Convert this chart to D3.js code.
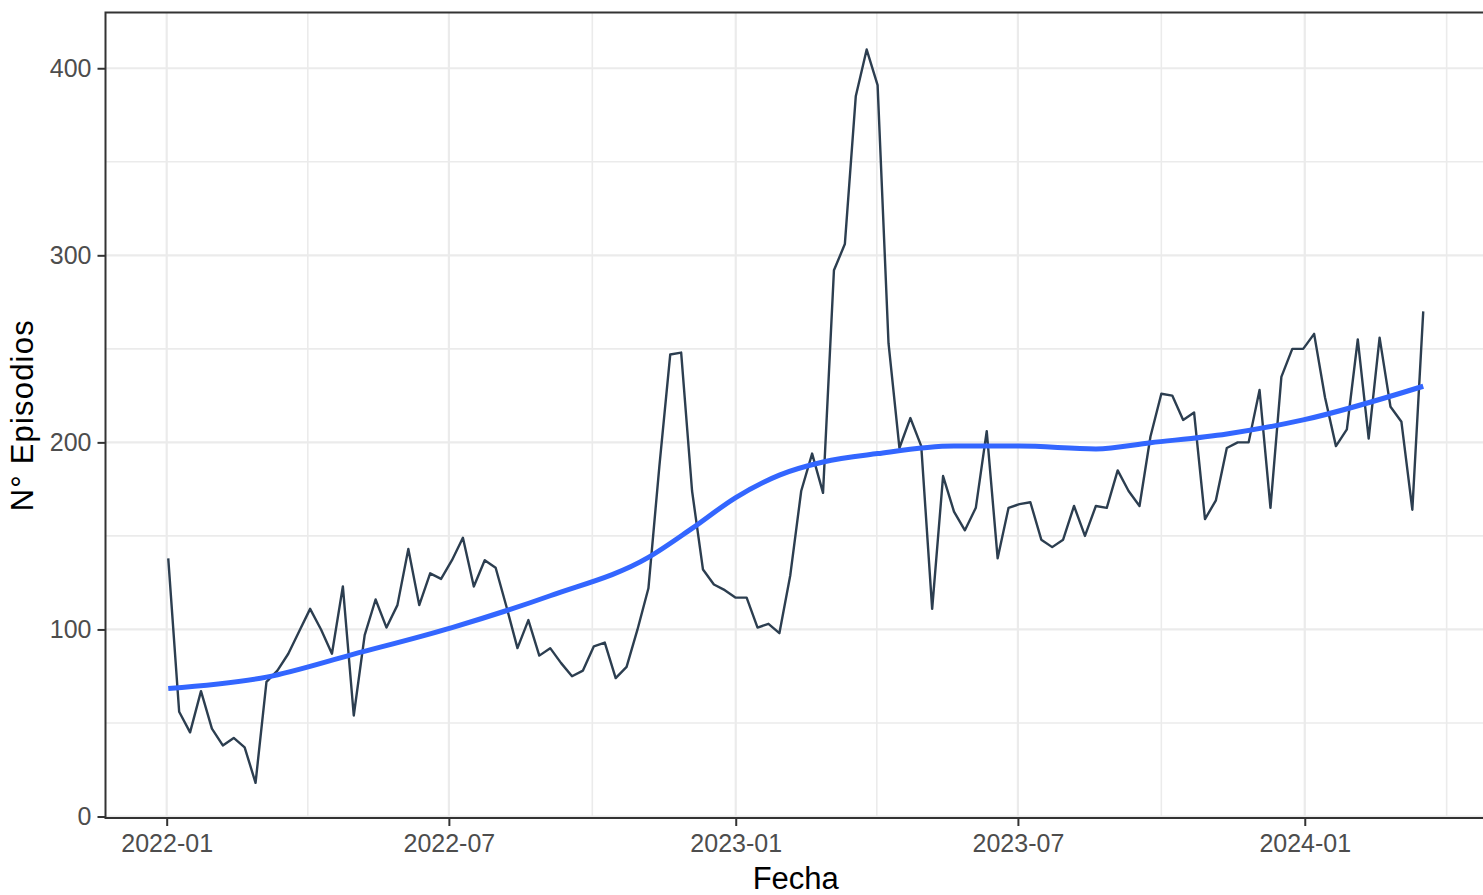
<!DOCTYPE html>
<html>
<head>
<meta charset="utf-8">
<script src="https://cdn.jsdelivr.net/npm/d3@7"></script>
<style>
  html, body { margin: 0; padding: 0; background: #ffffff; }
  svg { display: block; font-family: "Liberation Sans", Arial, sans-serif; }
</style>
</head>
<body>
<svg id="chart" width="1483" height="895"></svg>
<script>
// ---- data ----
const startDate = "2022-01-02";           // first weekly observation
const episodios = [
  138, 56, 45, 67, 47, 38, 42, 37, 18, 72,
  78, 87, 99, 111, 100, 87, 123, 54, 97, 116,
  101, 113, 143, 113, 130, 127, 137, 149, 123, 137,
  133, 112, 90, 105, 86, 90, 82, 75, 78, 91,
  93, 74, 80, 100, 122, 187, 247, 248, 174, 132,
  124, 121, 117, 117, 101, 103, 98, 129, 174, 194,
  173, 292, 306, 385, 410, 391, 253, 197, 213, 198,
  111, 182, 163, 153, 165, 206, 138, 165, 167, 168,
  148, 144, 148, 166, 150, 166, 165, 185, 174, 166,
  203, 226, 225, 212, 216, 159, 169, 197, 200, 200,
  228, 165, 235, 250, 250, 258, 224, 198, 207, 255,
  202, 256, 219, 211, 164, 270
];
// smoothed trend (week index, value)
const smoothWeek  = [0, 9, 17, 26, 35, 44, 48, 52, 56, 60, 65, 72, 78, 85, 90, 97, 104, 115];
const smoothValue = [68.4, 74.5, 86.8, 101, 118, 138.5, 154, 170.5, 182.5, 189.5, 194, 198, 198, 196.5, 199.8, 204.5, 212, 230];

const xTickLabels = ["2022-01", "2022-07", "2023-01", "2023-07", "2024-01"];
const yTicks = [0, 100, 200, 300, 400];
const yMinor = [50, 150, 250, 350];
const xTitle = "Fecha";
const yTitle = "N° Episodios";

// ---- build ----
const parse = d3.timeParse("%Y-%m-%d");
const parseYM = d3.timeParse("%Y-%m");
const t0 = parse(startDate);
const series = episodios.map((v, i) => ({ date: d3.timeWeek.offset(t0, i), value: v }));
const smooth = smoothWeek.map((w, i) => ({ date: d3.timeWeek.offset(t0, w), value: smoothValue[i] }));

const svg = d3.select("#chart");
const W = 1483, H = 895;
const panel = { left: 105.5, top: 12.5, right: 1486, bottom: 818 };

// x domain: data extent with 5% expansion (ggplot default)
const ext = d3.extent(series, d => d.date);
const span = ext[1] - ext[0];
const x = d3.scaleTime()
  .domain([new Date(+ext[0] - span * 0.05), new Date(+ext[1] + span * 0.05)])
  .range([panel.left, panel.right]);
const y = d3.scaleLinear().domain([-0.8, 429.8]).range([panel.bottom, panel.top]);

const majorX = xTickLabels.map(s => parseYM(s));
const minorX = [];
for (let i = 0; i < majorX.length; i++) {
  const a = majorX[i], b = i + 1 < majorX.length ? majorX[i + 1] : d3.timeMonth.offset(a, 6);
  minorX.push(new Date((+a + +b) / 2));
}

svg.append("rect").attr("width", W).attr("height", H).attr("fill", "#ffffff");

const grid = svg.append("g");
grid.selectAll(".ymin").data(yMinor).join("line")
  .attr("x1", panel.left).attr("x2", panel.right)
  .attr("y1", d => y(d)).attr("y2", d => y(d))
  .attr("stroke", "#ebebeb").attr("stroke-width", 1.6);
grid.selectAll(".xmin").data(minorX.filter(d => x(d) < panel.right)).join("line")
  .attr("y1", panel.top).attr("y2", panel.bottom)
  .attr("x1", d => x(d)).attr("x2", d => x(d))
  .attr("stroke", "#ebebeb").attr("stroke-width", 1.6);
grid.selectAll(".ymaj").data(yTicks).join("line")
  .attr("x1", panel.left).attr("x2", panel.right)
  .attr("y1", d => y(d)).attr("y2", d => y(d))
  .attr("stroke", "#ebebeb").attr("stroke-width", 2.2);
grid.selectAll(".xmaj").data(majorX).join("line")
  .attr("y1", panel.top).attr("y2", panel.bottom)
  .attr("x1", d => x(d)).attr("x2", d => x(d))
  .attr("stroke", "#ebebeb").attr("stroke-width", 2.2);

// data line
svg.append("path").datum(series)
  .attr("fill", "none").attr("stroke", "#2c3e50").attr("stroke-width", 2.4)
  .attr("stroke-linejoin", "round")
  .attr("d", d3.line().x(d => x(d.date)).y(d => y(d.value)));

// smooth line
svg.append("path").datum(smooth)
  .attr("fill", "none").attr("stroke", "#3366FF").attr("stroke-width", 5)
  .attr("d", d3.line().curve(d3.curveMonotoneX).x(d => x(d.date)).y(d => y(d.value)));

// panel border
svg.append("rect")
  .attr("x", panel.left).attr("y", panel.top)
  .attr("width", panel.right - panel.left).attr("height", panel.bottom - panel.top)
  .attr("fill", "none").attr("stroke", "#333333").attr("stroke-width", 2);

// axes
const xAxis = d3.axisBottom(x).tickValues(majorX).tickFormat(d3.timeFormat("%Y-%m")).tickSize(8).tickPadding(8);
const gx = svg.append("g").attr("transform", `translate(0,${panel.bottom})`).call(xAxis);
gx.select(".domain").remove();
gx.selectAll(".tick line").attr("stroke", "#333333").attr("stroke-width", 2);
gx.selectAll(".tick text").attr("fill", "#4d4d4d").style("font-size", "25px")
  .style("font-family", "'Liberation Sans', Arial, sans-serif");

const yAxis = d3.axisLeft(y).tickValues(yTicks).tickSize(8).tickPadding(6);
const gy = svg.append("g").attr("transform", `translate(${panel.left},0)`).call(yAxis);
gy.select(".domain").remove();
gy.selectAll(".tick line").attr("stroke", "#333333").attr("stroke-width", 2);
gy.selectAll(".tick text").attr("fill", "#4d4d4d").style("font-size", "25px")
  .style("font-family", "'Liberation Sans', Arial, sans-serif");

// titles
svg.append("text").attr("x", (panel.left + panel.right) / 2).attr("y", 889)
  .attr("text-anchor", "middle").attr("fill", "#000").style("font-size", "31px").text(xTitle);
svg.append("text")
  .attr("transform", `translate(33,${(panel.top + panel.bottom) / 2}) rotate(-90)`)
  .attr("text-anchor", "middle").attr("fill", "#000").style("font-size", "31px")
  .style("letter-spacing", "1.2px").text(yTitle);
</script>
</body>
</html>
